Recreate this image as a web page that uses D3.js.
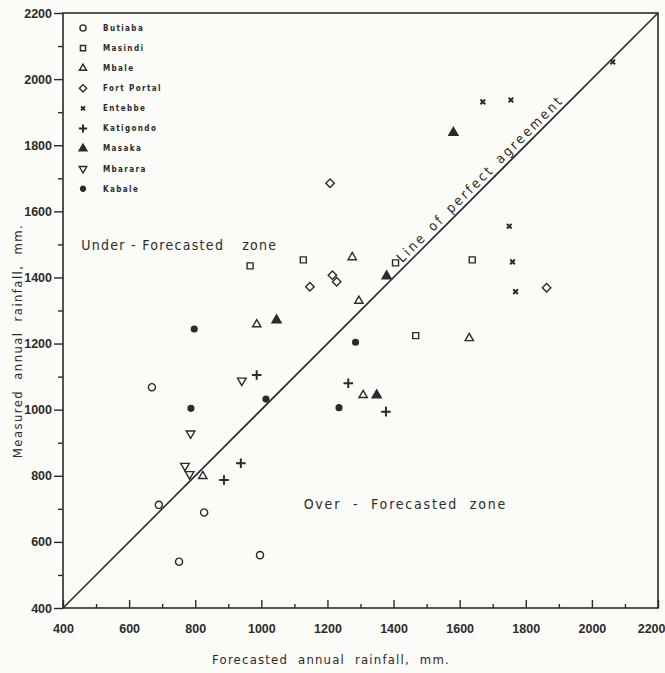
<!DOCTYPE html>
<html>
<head>
<meta charset="utf-8">
<script src="https://cdn.jsdelivr.net/npm/d3@7"></script>
<style>
  body { margin: 0; background: #fbfbf8; }
  svg { display: block; font-family: "DejaVu Sans Condensed", "DejaVu Sans", sans-serif; }
</style>
</head>
<body>
<div id="chart"></div>
<script>
// forecast vs measured annual rainfall (mm), one array of [forecast, measured] per station
const stations = ["Butiaba", "Masindi", "Mbale", "Fort Portal", "Entebbe", "Katigondo", "Masaka", "Mbarara", "Kabale"];

const butiaba = [[669, 1068], [690, 712], [827, 689], [751, 540], [996, 560]];
const masindi = [[966, 1435], [1127, 1453], [1406, 1444], [1467, 1224], [1638, 1453]];
const mbale = [[1275, 1461], [1295, 1329], [986, 1258], [1308, 1044], [1629, 1216], [823, 799]];
const fortPortal = [[1208, 1685], [1147, 1372], [1215, 1407], [1228, 1387], [1863, 1369]];
const entebbe = [[1670, 1931], [1755, 1937], [1750, 1555], [1760, 1447], [1769, 1357], [2063, 2052]];
const katigondo = [[986, 1105], [938, 838], [887, 787], [1263, 1080], [1377, 994]];
const masaka = [[1046, 1271], [1379, 1404], [1349, 1044], [1581, 1838]];
const mbarara = [[941, 1088], [786, 928], [769, 830], [783, 805]];
const kabale = [[797, 1244], [787, 1004], [1014, 1032], [1285, 1204], [1235, 1006]];

const stationData = [butiaba, masindi, mbale, fortPortal, entebbe, katigondo, masaka, mbarara, kabale];

const axisDomain = [400, 2200];
const majorTicks = [400, 600, 800, 1000, 1200, 1400, 1600, 1800, 2000, 2200];
const minorTicks = [500, 700, 900, 1100, 1300, 1500, 1700, 1900, 2100];

const ink = "#2b2b2b";

// symbol per station: [d3 symbol type, size, filled, rotation]
const symbolSpec = [
    [d3.symbolCircle, 40, false, 0],
    [d3.symbolSquare, 36, false, 0],
    [d3.symbolTriangle, 30, false, 0],
    [d3.symbolSquare, 36, false, 45],
    [d3.symbolTimes, 16, false, 0],
    [d3.symbolPlus, 32, false, 0],
    [d3.symbolTriangle, 36, true, 0],
    [d3.symbolTriangle, 32, false, 180],
    [d3.symbolCircle, 26, true, 0]
];

const width = 665, height = 673;
const margin = { top: 13, left: 63 };
const plotW = 595, plotH = 595;

const svg = d3.select("#chart").append("svg")
    .attr("width", width)
    .attr("height", height);

const g = svg.append("g")
    .attr("transform", "translate(" + margin.left + "," + margin.top + ")");

const x = d3.scaleLinear().domain(axisDomain).range([0, plotW]);
const y = d3.scaleLinear().domain(axisDomain).range([plotH, 0]);

// x axis: ticks point inward (up)
const xMajor = g.append("g")
    .attr("transform", "translate(0," + plotH + ")")
    .call(d3.axisBottom(x).tickValues(majorTicks).tickSize(-8).tickPadding(16).tickFormat(d3.format("d")));
const xMinor = g.append("g")
    .attr("transform", "translate(0," + plotH + ")")
    .call(d3.axisBottom(x).tickValues(minorTicks).tickSize(-4).tickFormat(""));

// y axis: ticks point outward (left)
const yMajor = g.append("g")
    .call(d3.axisLeft(y).tickValues(majorTicks).tickSize(9).tickPadding(2).tickFormat(d3.format("d")));
const yMinor = g.append("g")
    .call(d3.axisLeft(y).tickValues(minorTicks).tickSize(5).tickFormat(""));

[xMajor, xMinor, yMajor, yMinor].forEach(a => {
    a.select(".domain").remove();
    a.selectAll("line").attr("stroke", ink).attr("stroke-width", 1.4);
    a.selectAll("text")
        .attr("fill", ink)
        .attr("font-size", 12.5)
        .attr("font-weight", "bold");
});

// last x label sits against the page edge
xMajor.selectAll(".tick text")
    .filter(d => d === 2200)
    .attr("text-anchor", "end")
    .attr("x", 7);

// frame
g.append("rect")
    .attr("x", 0).attr("y", 0)
    .attr("width", plotW).attr("height", plotH)
    .attr("fill", "none")
    .attr("stroke", ink)
    .attr("stroke-width", 1.6);

// line of perfect agreement
g.append("line")
    .attr("x1", x(400)).attr("y1", y(400))
    .attr("x2", x(2200)).attr("y2", y(2200))
    .attr("stroke", ink)
    .attr("stroke-width", 1.6);

g.append("text")
    .attr("transform", "translate(" + x(1680) + "," + y(1680) + ") rotate(-45)")
    .attr("dy", -4)
    .attr("text-anchor", "middle")
    .attr("font-size", 13.5)
    .attr("letter-spacing", 2.6)
    .attr("word-spacing", 2)
    .attr("fill", ink)
    .text("Line of perfect agreement");

// zone labels
const under = g.append("text")
    .attr("x", x(455)).attr("y", y(1484))
    .attr("font-size", 14)
    .attr("letter-spacing", 1.3)
    .attr("fill", ink);
under.append("tspan").text("Under - Forecasted");
under.append("tspan").attr("x", x(942)).text("zone");

g.append("text")
    .attr("x", x(1128)).attr("y", y(699))
    .attr("font-size", 14)
    .attr("letter-spacing", 1.8)
    .attr("word-spacing", 6)
    .attr("fill", ink)
    .text("Over - Forecasted zone");

function symbolPath(i, scaleFactor) {
    const s = symbolSpec[i];
    return d3.symbol().type(s[0]).size(s[1] * scaleFactor)();
}

function styleSymbol(sel, i) {
    const s = symbolSpec[i];
    sel.attr("fill", s[2] ? ink : "none")
        .attr("stroke", ink)
        .attr("stroke-width", (s[0] === d3.symbolTimes || s[0] === d3.symbolPlus) ? 2 : 1.4);
}

// points
stationData.forEach((pts, i) => {
    g.selectAll(".pt-" + i)
        .data(pts)
        .enter().append("path")
        .attr("class", "pt-" + i)
        .attr("d", symbolPath(i, 1))
        .attr("transform", d => "translate(" + x(d[0]) + "," + y(d[1]) + ") rotate(" + symbolSpec[i][3] + ")")
        .call(styleSymbol, i);
});

// legend
const legend = svg.append("g").attr("transform", "translate(83,28)");
stations.forEach((name, i) => {
    const row = legend.append("g").attr("transform", "translate(0," + (i * 20.1) + ")");
    row.append("path")
        .attr("d", symbolPath(i, 0.75))
        .attr("transform", "rotate(" + symbolSpec[i][3] + ")")
        .call(styleSymbol, i);
    row.append("text")
        .attr("x", 20)
        .attr("dy", "0.35em")
        .attr("font-size", 8)
        .attr("font-weight", "bold")
        .attr("letter-spacing", 1.4)
        .attr("fill", ink)
        .text(name);
});

// axis titles
svg.append("text")
    .attr("x", 331).attr("y", 664)
    .attr("text-anchor", "middle")
    .attr("font-size", 13)
    .attr("letter-spacing", 1.2)
    .attr("word-spacing", 5)
    .attr("fill", ink)
    .text("Forecasted annual rainfall, mm.");

svg.append("text")
    .attr("transform", "translate(22,341) rotate(-90)")
    .attr("text-anchor", "middle")
    .attr("font-size", 13)
    .attr("letter-spacing", 1.4)
    .attr("word-spacing", 5)
    .attr("fill", ink)
    .text("Measured annual rainfall, mm.");
</script>
</body>
</html>
